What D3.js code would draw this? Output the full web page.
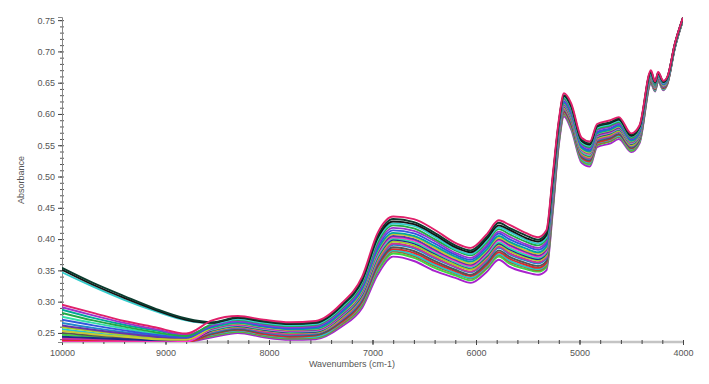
<!DOCTYPE html>
<html><head><meta charset='utf-8'>
<script src='https://cdn.jsdelivr.net/npm/d3@7/dist/d3.min.js'></script>
<style>
body{margin:0;background:#fff;}
svg text{font-family:'Liberation Sans',Arial,sans-serif;fill:#555;}
</style></head>
<body><svg id='chart'></svg>
<script>
// wavenumber grid (cm-1), shared by every spectrum
const wavenumbers=[10000,9700,9400,9100,8800,8550,8300,8050,7800,7550,7300,7100,6950,6800,6600,6400,6200,6050,5900,5780,5680,5520,5400,5320,5260,5200,5150,5080,4980,4900,4830,4700,4620,4500,4420,4310,4270,4240,4190,4150,4080,4000];
const xTicks=[10000,9000,8000,7000,6000,5000,4000];
const yTicks=[0.25,0.30,0.35,0.40,0.45,0.50,0.55,0.60,0.65,0.70,0.75];

// absorbance spectra
const s01=[0.295,0.282,0.269,0.259,0.249,0.270,0.277,0.271,0.267,0.269,0.297,0.340,0.410,0.436,0.432,0.415,0.394,0.386,0.407,0.430,0.423,0.410,0.403,0.414,0.500,0.590,0.633,0.617,0.562,0.556,0.584,0.590,0.595,0.569,0.582,0.670,0.652,0.667,0.653,0.660,0.712,0.754];
const s02=[0.354,0.330,0.309,0.289,0.273,0.267,0.275,0.269,0.265,0.267,0.294,0.336,0.405,0.432,0.427,0.410,0.390,0.382,0.403,0.426,0.418,0.406,0.399,0.410,0.496,0.587,0.630,0.614,0.559,0.553,0.581,0.587,0.593,0.567,0.580,0.668,0.651,0.666,0.652,0.659,0.711,0.754];
const s03=[0.351,0.327,0.306,0.287,0.271,0.266,0.274,0.268,0.264,0.266,0.293,0.334,0.402,0.428,0.424,0.407,0.387,0.379,0.400,0.422,0.415,0.402,0.396,0.406,0.493,0.585,0.629,0.612,0.557,0.551,0.580,0.586,0.591,0.565,0.579,0.667,0.650,0.665,0.651,0.659,0.711,0.754];
const s04=[0.347,0.324,0.303,0.285,0.270,0.265,0.272,0.266,0.262,0.264,0.291,0.332,0.399,0.425,0.421,0.404,0.384,0.376,0.397,0.419,0.412,0.399,0.393,0.403,0.490,0.583,0.627,0.610,0.555,0.549,0.578,0.584,0.589,0.564,0.577,0.666,0.649,0.664,0.650,0.658,0.711,0.753];
const s05=[0.282,0.270,0.260,0.251,0.245,0.264,0.271,0.265,0.261,0.263,0.289,0.329,0.395,0.422,0.417,0.400,0.382,0.374,0.394,0.416,0.408,0.396,0.390,0.400,0.487,0.581,0.625,0.608,0.553,0.547,0.576,0.582,0.587,0.562,0.576,0.665,0.648,0.664,0.650,0.657,0.710,0.753];
const s06=[0.291,0.278,0.266,0.256,0.247,0.262,0.269,0.263,0.259,0.261,0.287,0.326,0.391,0.418,0.413,0.397,0.378,0.370,0.390,0.412,0.404,0.392,0.386,0.396,0.483,0.579,0.623,0.605,0.551,0.545,0.574,0.580,0.585,0.561,0.574,0.664,0.648,0.663,0.649,0.657,0.710,0.753];
const s07=[0.271,0.262,0.254,0.247,0.243,0.261,0.268,0.261,0.257,0.259,0.284,0.323,0.387,0.414,0.409,0.393,0.375,0.367,0.387,0.409,0.400,0.389,0.383,0.392,0.480,0.576,0.620,0.603,0.548,0.542,0.571,0.577,0.583,0.559,0.572,0.663,0.647,0.662,0.648,0.656,0.709,0.753];
const s08=[0.287,0.274,0.263,0.254,0.246,0.259,0.266,0.260,0.256,0.257,0.282,0.320,0.383,0.410,0.405,0.389,0.372,0.364,0.383,0.405,0.396,0.385,0.379,0.388,0.476,0.574,0.618,0.600,0.546,0.540,0.569,0.575,0.581,0.557,0.570,0.661,0.646,0.661,0.647,0.655,0.709,0.752];
const s09=[0.253,0.248,0.244,0.240,0.239,0.258,0.265,0.259,0.255,0.256,0.281,0.318,0.381,0.408,0.403,0.386,0.369,0.361,0.381,0.402,0.394,0.382,0.377,0.386,0.474,0.572,0.617,0.599,0.544,0.538,0.568,0.574,0.580,0.556,0.569,0.660,0.645,0.660,0.646,0.655,0.708,0.752];
const s10=[0.262,0.255,0.249,0.244,0.241,0.257,0.264,0.258,0.254,0.255,0.279,0.316,0.378,0.405,0.400,0.383,0.367,0.359,0.378,0.400,0.391,0.380,0.374,0.383,0.471,0.571,0.615,0.597,0.543,0.537,0.566,0.572,0.578,0.555,0.568,0.659,0.644,0.660,0.646,0.654,0.708,0.752];
const s11=[0.235,0.235,0.235,0.235,0.236,0.256,0.263,0.257,0.253,0.254,0.278,0.315,0.376,0.403,0.398,0.381,0.365,0.357,0.376,0.398,0.389,0.378,0.372,0.381,0.469,0.570,0.614,0.596,0.542,0.536,0.565,0.571,0.577,0.554,0.567,0.659,0.644,0.659,0.645,0.654,0.708,0.752];
const s12=[0.276,0.266,0.257,0.249,0.244,0.255,0.262,0.256,0.252,0.253,0.277,0.313,0.373,0.401,0.395,0.379,0.363,0.355,0.374,0.395,0.386,0.375,0.370,0.379,0.467,0.568,0.613,0.594,0.540,0.534,0.564,0.570,0.576,0.553,0.566,0.658,0.643,0.659,0.645,0.653,0.708,0.752];
const s13=[0.244,0.242,0.240,0.238,0.237,0.254,0.261,0.255,0.251,0.252,0.276,0.311,0.371,0.399,0.393,0.377,0.362,0.354,0.372,0.393,0.384,0.373,0.368,0.377,0.465,0.567,0.612,0.593,0.539,0.533,0.563,0.569,0.575,0.552,0.565,0.657,0.643,0.658,0.644,0.653,0.707,0.752];
const s14=[0.259,0.253,0.247,0.242,0.240,0.253,0.260,0.254,0.250,0.251,0.274,0.309,0.368,0.396,0.390,0.374,0.359,0.351,0.370,0.391,0.381,0.371,0.366,0.374,0.463,0.565,0.610,0.591,0.537,0.531,0.561,0.567,0.573,0.550,0.564,0.656,0.642,0.658,0.644,0.653,0.707,0.752];
const s15=[0.242,0.240,0.239,0.237,0.237,0.252,0.259,0.252,0.248,0.250,0.272,0.307,0.365,0.393,0.387,0.371,0.356,0.348,0.367,0.388,0.378,0.368,0.363,0.371,0.460,0.563,0.608,0.589,0.535,0.529,0.559,0.565,0.572,0.549,0.563,0.655,0.641,0.657,0.643,0.652,0.707,0.751];
const s16=[0.266,0.258,0.251,0.245,0.242,0.251,0.258,0.251,0.247,0.249,0.271,0.305,0.363,0.391,0.385,0.369,0.355,0.347,0.365,0.386,0.376,0.366,0.361,0.369,0.458,0.562,0.607,0.588,0.534,0.528,0.558,0.564,0.571,0.548,0.562,0.655,0.641,0.657,0.643,0.652,0.706,0.751];
const s17=[0.250,0.246,0.242,0.239,0.238,0.249,0.256,0.250,0.246,0.247,0.269,0.302,0.359,0.387,0.381,0.365,0.351,0.343,0.361,0.382,0.372,0.362,0.357,0.365,0.454,0.560,0.605,0.585,0.532,0.526,0.556,0.562,0.568,0.546,0.560,0.653,0.640,0.656,0.642,0.651,0.706,0.751];
const s18=[0.238,0.237,0.237,0.236,0.236,0.248,0.255,0.248,0.244,0.246,0.267,0.300,0.356,0.384,0.378,0.362,0.349,0.341,0.358,0.379,0.369,0.359,0.354,0.362,0.451,0.558,0.603,0.583,0.530,0.524,0.554,0.560,0.567,0.545,0.559,0.652,0.639,0.655,0.641,0.650,0.706,0.751];
const s19=[0.256,0.250,0.245,0.241,0.239,0.247,0.254,0.247,0.243,0.244,0.266,0.298,0.353,0.382,0.375,0.359,0.346,0.338,0.356,0.376,0.366,0.356,0.352,0.360,0.449,0.556,0.602,0.581,0.528,0.522,0.553,0.559,0.565,0.544,0.557,0.651,0.638,0.654,0.640,0.650,0.705,0.751];
const s20=[0.236,0.236,0.236,0.236,0.236,0.246,0.253,0.246,0.242,0.243,0.264,0.296,0.351,0.380,0.373,0.357,0.345,0.337,0.354,0.375,0.364,0.355,0.350,0.358,0.447,0.555,0.600,0.580,0.527,0.521,0.551,0.557,0.564,0.543,0.556,0.651,0.638,0.654,0.640,0.649,0.705,0.750];
const s21=[0.247,0.244,0.241,0.239,0.238,0.245,0.252,0.245,0.241,0.242,0.263,0.294,0.348,0.377,0.370,0.354,0.342,0.334,0.352,0.372,0.361,0.352,0.348,0.355,0.445,0.553,0.599,0.578,0.525,0.519,0.550,0.556,0.563,0.541,0.555,0.650,0.637,0.653,0.639,0.649,0.705,0.750];
const s22=[0.240,0.239,0.238,0.237,0.236,0.243,0.250,0.243,0.239,0.240,0.260,0.290,0.343,0.372,0.365,0.349,0.338,0.330,0.347,0.367,0.356,0.347,0.343,0.350,0.440,0.550,0.596,0.575,0.522,0.516,0.547,0.553,0.560,0.539,0.553,0.648,0.636,0.652,0.638,0.648,0.704,0.750];

const spectra=[s22,s21,s20,s19,s18,s17,s16,s15,s14,s13,s12,s11,s10,s09,s08,s07,s06,s05,s04,s03,s02,s01];
const colors=['#a822cc','#3fd83f','#9a6a33','#22c8cc','#dd2a2a','#555555','#2288cc','#cc3399','#aacc22','#1c2c8c','#33ddaa','#ff33cc','#6633aa','#c8c833','#00a898','#3355dd','#9933cc','#22aa44','#33cccc','#141414','#0b3b2e','#e0206a'];

const W=709,H=384;
const margin={top:17,right:26,bottom:42,left:62};
const svg=d3.select('#chart').attr('width',W).attr('height',H);

const x=d3.scaleLinear().domain([10000,4000]).range([margin.left,W-margin.right]);
const y=d3.scaleLinear().domain([0.2355,0.755]).range([H-margin.bottom,margin.top]);

svg.append('clipPath').attr('id','plot').append('rect')
   .attr('x',margin.left).attr('y',margin.top)
   .attr('width',W-margin.left-margin.right).attr('height',H-margin.top-margin.bottom);

const line=d3.line().curve(d3.curveMonotoneX)
   .x((d,i)=>x(wavenumbers[i])).y(d=>y(d));

// x axis: light thick baseline with minor ticks every 200
const gx=svg.append('g').attr('transform',`translate(0,${H-margin.bottom})`);
gx.append('line').attr('x1',x(10000)).attr('x2',x(4000))
  .attr('stroke','#c4c4c4').attr('stroke-width',2.5);
gx.call(d3.axisBottom(x).tickValues(d3.range(10000,3999,-200)).tickSize(3).tickFormat(''))
  .call(g=>g.select('.domain').remove())
  .call(g=>g.selectAll('.tick line').attr('stroke','#444').attr('y1',-2).attr('y2',2));
const gx2=svg.append('g').attr('transform',`translate(0,${H-margin.bottom})`)
  .call(d3.axisBottom(x).tickValues(xTicks).tickSize(3).tickPadding(5).tickFormat(d3.format('d')))
  .call(g=>g.select('.domain').remove())
  .call(g=>g.selectAll('.tick line').attr('stroke','#444').attr('y1',-2).attr('y2',3));
gx2.selectAll('text').attr('font-size',9).style('fill','#555');

// y axis with minor ticks every 0.01
const gy=svg.append('g').attr('transform',`translate(${margin.left},0)`)
  .call(d3.axisLeft(y).tickValues(d3.range(0.24,0.755,0.01)).tickSize(2).tickFormat(''))
  .call(g=>g.select('.domain').remove())
  .call(g=>g.selectAll('.tick line').attr('stroke','#555').attr('x2',2).attr('x1',-2));
const gy2=svg.append('g').attr('transform',`translate(${margin.left},0)`)
  .call(d3.axisLeft(y).tickValues(yTicks).tickSize(4).tickPadding(3).tickFormat(d3.format('.2f')))
  .call(g=>g.select('.domain').attr('stroke','#888'))
  .call(g=>g.selectAll('.tick line').attr('stroke','#444'));
gy2.selectAll('text').attr('font-size',9).style('fill','#555');

// spectra
svg.append('g').attr('clip-path','url(#plot)')
  .selectAll('path').data(spectra).join('path')
  .attr('d',line).attr('fill','none')
  .attr('stroke',(d,i)=>colors[i]).attr('stroke-width',1.9)
  .attr('stroke-linejoin','round');

svg.append('text').attr('x',352).attr('y',367).attr('text-anchor','middle')
  .attr('font-size',9).text('Wavenumbers (cm-1)');
svg.append('text').attr('transform','translate(24,180) rotate(-90)')
  .attr('text-anchor','middle').attr('font-size',9).text('Absorbance');
</script></body></html>
